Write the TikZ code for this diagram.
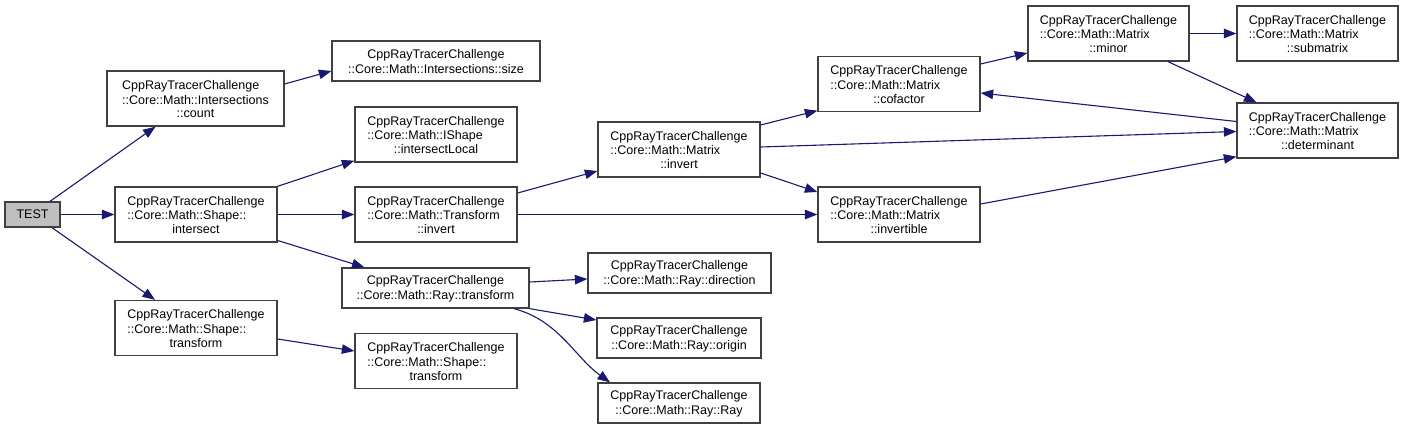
\documentclass[tikz,border=0pt]{standalone}
\usepackage{fontspec}
\setmainfont{Liberation Sans}
\usetikzlibrary{arrows.meta}
\definecolor{edgec}{HTML}{191970}
\definecolor{boxc}{HTML}{404040}
\newcommand{\ml}[2]{\begin{tabular}{@{}l@{}}#1\end{tabular}\\#2}
\begin{document}
\begin{tikzpicture}[x=1pt,y=-1pt,
  box/.style={draw=boxc,line width=1.3pt,fill=white,inner sep=0pt,align=center,
    font=\fontsize{12.5}{14.5}\selectfont},
  edge/.style={draw=edgec,line width=1.1pt,-{Triangle[length=12.5pt,width=9.5pt]}}]
\useasboundingbox (0,0) rectangle (1404,430);
\fill[white] (0,0) rectangle (1404,430);
% nodes
\node[box,fill=black!25,minimum width=55pt,minimum height=25pt] (test) at (32.5,214.5) {TEST};
\node[box,minimum width=177pt,minimum height=55pt] (count) at (195.5,98.5) {\ml{CppRayTracerChallenge\\::Core::Math::Intersections}{::count}};
\node[box,minimum width=162pt,minimum height=55pt] (sint) at (196,214.5) {\ml{CppRayTracerChallenge\\::Core::Math::Shape::}{intersect}};
\node[box,minimum width=162pt,minimum height=55pt] (stl) at (196,328) {\ml{CppRayTracerChallenge\\::Core::Math::Shape::}{transform}};
\node[box,minimum width=208pt,minimum height=40pt] (size) at (436,61) {\ml{CppRayTracerChallenge}{::Core::Math::Intersections::size}};
\node[box,minimum width=162pt,minimum height=55pt] (il) at (436,134.5) {\ml{CppRayTracerChallenge\\::Core::Math::IShape}{::intersectLocal}};
\node[box,minimum width=162pt,minimum height=55pt] (tinv) at (436,214.5) {\ml{CppRayTracerChallenge\\::Core::Math::Transform}{::invert}};
\node[box,minimum width=187pt,minimum height=40pt] (rtr) at (435.5,288) {\ml{CppRayTracerChallenge}{::Core::Math::Ray::transform}};
\node[box,minimum width=162pt,minimum height=55pt] (str) at (436,361) {\ml{CppRayTracerChallenge\\::Core::Math::Shape::}{transform}};
\node[box,minimum width=183pt,minimum height=40pt] (dir) at (679.5,273) {\ml{CppRayTracerChallenge}{::Core::Math::Ray::direction}};
\node[box,minimum width=164pt,minimum height=40pt] (orig) at (679,338) {\ml{CppRayTracerChallenge}{::Core::Math::Ray::origin}};
\node[box,minimum width=162pt,minimum height=40pt] (ray) at (679,403) {\ml{CppRayTracerChallenge}{::Core::Math::Ray::Ray}};
\node[box,minimum width=162pt,minimum height=55pt] (minv) at (679,149.5) {\ml{CppRayTracerChallenge\\::Core::Math::Matrix}{::invert}};
\node[box,minimum width=162pt,minimum height=55pt] (cof) at (899,84) {\ml{CppRayTracerChallenge\\::Core::Math::Matrix}{::cofactor}};
\node[box,minimum width=162pt,minimum height=55pt] (invb) at (899,214.5) {\ml{CppRayTracerChallenge\\::Core::Math::Matrix}{::invertible}};
\node[box,minimum width=161pt,minimum height=55pt] (minor) at (1108.5,33.5) {\ml{CppRayTracerChallenge\\::Core::Math::Matrix}{::minor}};
\node[box,minimum width=161pt,minimum height=55pt] (sub) at (1317.5,33.5) {\ml{CppRayTracerChallenge\\::Core::Math::Matrix}{::submatrix}};
\node[box,minimum width=161pt,minimum height=55pt] (det) at (1317.5,130.5) {\ml{CppRayTracerChallenge\\::Core::Math::Matrix}{::determinant}};
% edges
\draw[edge] ([xshift=17.5pt]test.north) -- ([xshift=-40pt]count.south);
\draw[edge] (test.east) -- (sint.west);
\draw[edge] ([xshift=19.5pt]test.south) -- ([xshift=-41pt]stl.north);
\draw[edge] ([yshift=14.5pt]count.east) -- ([yshift=-10pt]size.west);
\draw[edge] (sint.north east) -- ([yshift=2pt]il.south west);
\draw[edge] (sint.east) -- (tinv.west);
\draw[edge] ([yshift=-26pt]sint.east) -- ([xshift=-71pt]rtr.north);
\draw[edge] ([yshift=-11pt]stl.east) -- ([yshift=10pt]str.west);
\draw[edge] ([yshift=21.5pt]tinv.east) -- ([yshift=-21.5pt]minv.west);
\draw[edge] (tinv.east) -- (invb.west);
\draw[edge] ([yshift=6pt]rtr.east) -- ([yshift=-6pt]dir.west);
\draw[edge] (rtr.south east) -- ([yshift=18pt]orig.west);
\draw[edge] ([xshift=78.5pt]rtr.south) .. controls +(45,12) and +(-35,-25) .. ([xshift=-69pt]ray.north);
\draw[edge] ([yshift=24.5pt]minv.east) -- ([yshift=1.5pt]cof.south west);
\draw[edge] ([yshift=2.5pt]minv.east) -- ([yshift=-1pt]det.west);
\draw[edge] ([yshift=-23.5pt]minv.east) -- ([yshift=22.5pt]invb.west);
\draw[edge] ([yshift=20pt]cof.east) -- ([yshift=-19.5pt]minor.west);
\draw[edge] (minor.east) -- (sub.west);
\draw[edge] ([xshift=59.5pt]minor.south) -- ([xshift=-61pt]det.north);
\draw[edge] ([yshift=9pt]det.west) -- ([yshift=-9pt]cof.east);
\draw[edge] ([yshift=10.5pt]invb.east) -- ([yshift=2pt]det.south west);
\end{tikzpicture}
\end{document}
